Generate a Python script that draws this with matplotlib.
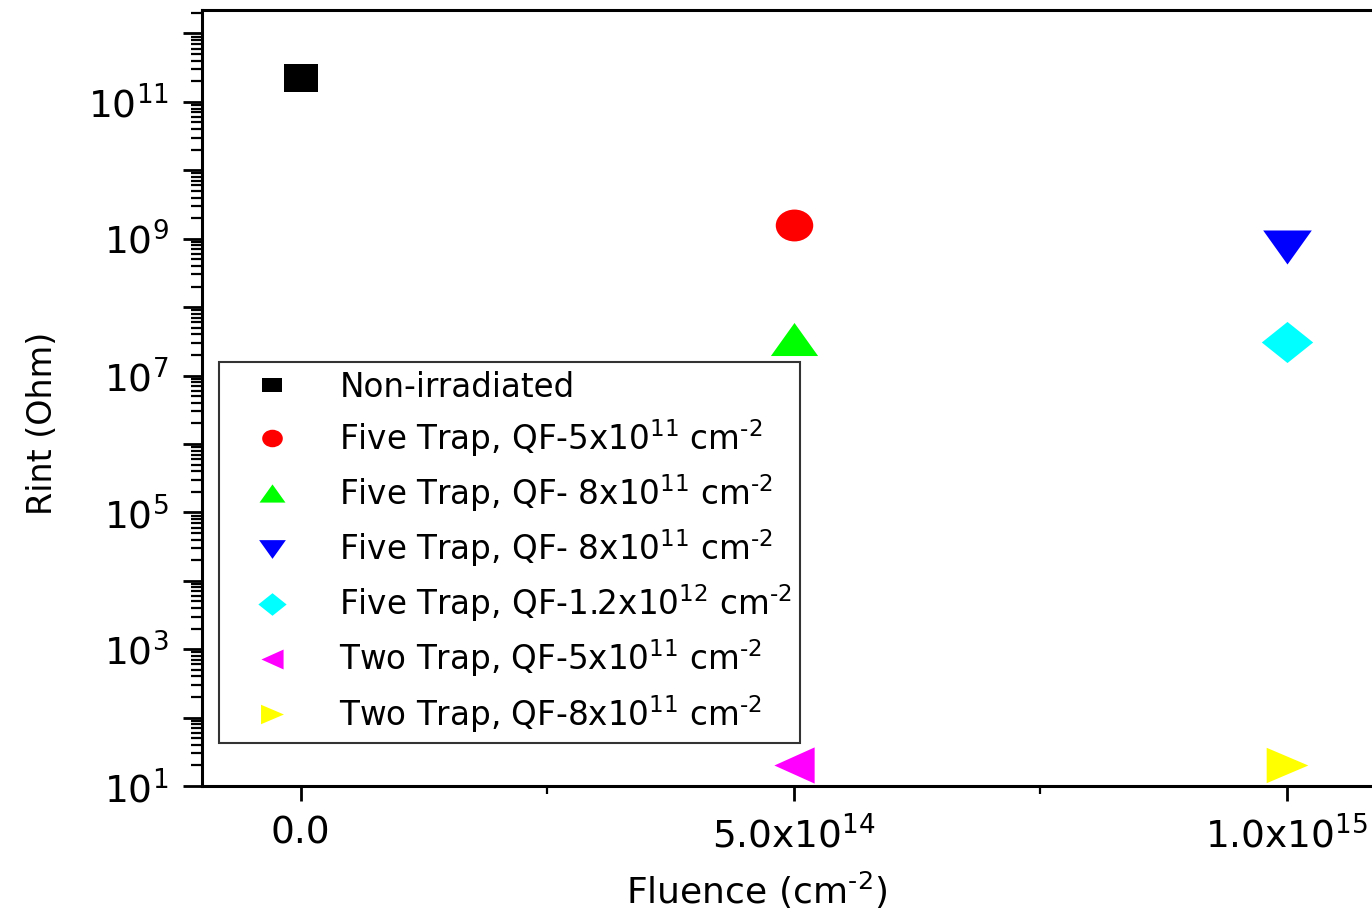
import matplotlib
matplotlib.use("Agg")
import matplotlib.pyplot as plt
import numpy as np
from matplotlib.path import Path
from matplotlib.ticker import FixedLocator, FuncFormatter, LogLocator, NullFormatter

plt.rcParams['font.family'] = ['DejaVu Sans']
plt.rcParams['mathtext.default'] = 'regular'

# data
labels = ['Non-irradiated',
          r'Five Trap, QF-5x10$^{11}$ cm$^{\text{-2}}$',
          r'Five Trap, QF- 8x10$^{11}$ cm$^{\text{-2}}$',
          r'Five Trap, QF- 8x10$^{11}$ cm$^{\text{-2}}$',
          r'Five Trap, QF-1.2x10$^{12}$ cm$^{\text{-2}}$',
          r'Two Trap, QF-5x10$^{11}$ cm$^{\text{-2}}$',
          r'Two Trap, QF-8x10$^{11}$ cm$^{\text{-2}}$']
fluence = [0.0, 5e14, 5e14, 1e15, 1e15, 5e14, 1e15]
rint = [2.2e11, 1.6e9, 3.4e7, 7.6e8, 3.1e7, 20, 20]
colors = ['black', 'red', '#00ff00', 'blue', 'cyan', 'magenta', 'yellow']

xticks = [0.0, 5e14, 1e15]
xtick_labels = ['0.0', '5.0x10$^{14}$', '1.0x10$^{15}$']


def shape(pts, sx=1.0, sy=1.0):
    v = np.array(pts, dtype=float) * [sx, sy]
    v = np.vstack([v, v[:1]])
    codes = [Path.MOVETO] + [Path.LINETO] * (len(v) - 2) + [Path.CLOSEPOLY]
    return Path(v, codes)


circ = Path.unit_circle()
markers = [
    shape([(-1, -1), (1, -1), (1, 1), (-1, 1)], 1.0, 0.78),
    Path(circ.vertices * [1.0, 0.85], circ.codes),
    shape([(-1, -0.7), (1, -0.7), (0, 0.7)]),
    shape([(-1, 0.7), (1, 0.7), (0, -0.7)]),
    shape([(-1, 0), (0, -0.8), (1, 0), (0, 0.8)]),
    shape([(1, -0.9), (1, 0.9), (-1, 0)]),
    shape([(-1, -0.85), (-1, 0.85), (1, 0)]),
]
sizes = [25, 27, 34, 35, 37, 29, 30]

fig = plt.figure(figsize=(13.72, 9.14), dpi=100)
ax = fig.add_axes([0.1472, 0.140, 0.8624, 0.849])

for x, y, c, m, s, lab in zip(fluence, rint, colors, markers, sizes, labels):
    ax.plot([x], [y], linestyle='none', marker=m, markersize=s,
            color=c, markeredgewidth=0, label=lab)

ax.set_yscale('log')
ax.set_xlim(-1e14, 1.1e15)
ax.set_ylim(10, 2.2e12)

ax.yaxis.set_major_locator(LogLocator(base=10, numticks=30))
ax.yaxis.set_minor_locator(LogLocator(base=10, subs=np.arange(2, 10), numticks=30))
ax.yaxis.set_minor_formatter(NullFormatter())


def ylab(v, pos):
    e = int(round(np.log10(v)))
    return '10$^{%d}$' % e if e % 2 == 1 else ''


ax.yaxis.set_major_formatter(FuncFormatter(ylab))
ax.xaxis.set_major_locator(FixedLocator(xticks))
ax.set_xticklabels(xtick_labels)
ax.xaxis.set_minor_locator(FixedLocator([2.5e14, 7.5e14]))

ax.tick_params(axis='y', which='major', direction='out', length=14, width=2,
               labelsize=27, pad=10)
ax.tick_params(axis='y', which='minor', direction='out', length=8, width=1.6)
ax.tick_params(axis='x', which='major', direction='out', length=11, width=2,
               labelsize=27, pad=10)
ax.tick_params(axis='x', which='minor', direction='out', length=6, width=1.6)
for sp in ax.spines.values():
    sp.set_linewidth(2.2)

ax.set_xlabel(r'Fluence (cm$^{\text{-2}}$)', fontsize=26)
ax.xaxis.set_label_coords(0.469, -0.108)
ax.set_ylabel('Rint (Ohm)', fontsize=24)
ax.yaxis.set_label_coords(-0.121, 0.468)

leg = ax.legend(loc='upper left', bbox_to_anchor=(0.014, 0.546), borderaxespad=0,
                fontsize=23.5, markerscale=0.55, frameon=True, fancybox=False,
                edgecolor='black', borderpad=0.25, labelspacing=0.41,
                handlelength=2.8, handletextpad=0.65)
leg.get_frame().set_linewidth(1.5)

fig.savefig('out.png', dpi=100)
